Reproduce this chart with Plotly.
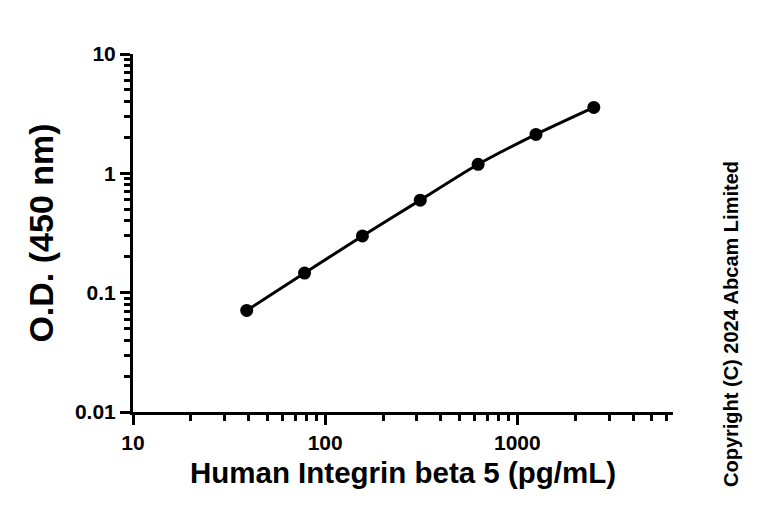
import plotly.graph_objects as go

concentration = [39.06, 78.13, 156.25, 312.5, 625, 1250, 2500]
od_450 = [0.071, 0.146, 0.299, 0.596, 1.19, 2.12, 3.57]

x_major = [10, 100, 1000]
x_major_text = ["10", "100", "1000"]
x_minor = [20, 30, 40, 50, 60, 70, 80, 90, 200, 300, 400, 500, 600, 700, 800, 900,
           2000, 3000, 4000, 5000, 6000]
y_major = [0.01, 0.1, 1, 10]
y_major_text = ["0.01", "0.1", "1", "10"]
y_minor = [0.02, 0.03, 0.04, 0.05, 0.06, 0.07, 0.08, 0.09,
           0.2, 0.3, 0.4, 0.5, 0.6, 0.7, 0.8, 0.9,
           2, 3, 4, 5, 6, 7, 8, 9]

x_title = "Human Integrin beta 5 (pg/mL)"
y_title = "O.D. (450 nm)"
copyright_text = "Copyright (C) 2024 Abcam Limited"

FONT = "Liberation Sans, Arial, sans-serif"

fig = go.Figure()
fig.add_trace(go.Scatter(
    x=concentration, y=od_450, mode="lines+markers",
    line=dict(color="black", width=3, shape="spline", smoothing=0.6),
    marker=dict(color="black", size=13),
    showlegend=False,
))

axis_common = dict(
    showline=True, linecolor="black", linewidth=3,
    ticks="outside", ticklen=10, tickwidth=3, tickcolor="black",
    showgrid=False, zeroline=False, mirror=False,
    tickfont=dict(family=FONT, size=21, color="black", weight="bold"),
)

fig.update_xaxes(
    type="log", range=[1, 3.81],
    tickmode="array", tickvals=x_major, ticktext=x_major_text,
    minor=dict(tickmode="array", tickvals=x_minor, ticks="outside", ticklen=6,
               tickwidth=3, tickcolor="black", showgrid=False),
    title=dict(text=f"<b>{x_title}</b>", font=dict(family=FONT, size=29.5, color="black"),
               standoff=10),
    **axis_common,
)
fig.update_yaxes(
    type="log", range=[-2, 1],
    tickmode="array", tickvals=y_major, ticktext=y_major_text,
    minor=dict(tickmode="array", tickvals=y_minor, ticks="outside", ticklen=6,
               tickwidth=3, tickcolor="black", showgrid=False),
    title=dict(text=f"<b>{y_title}</b>", font=dict(family=FONT, size=34, color="black"),
               standoff=12),
    **axis_common,
)

fig.add_annotation(
    text=f"<b>{copyright_text}</b>", xref="paper", yref="paper",
    x=1, xshift=58, y=0.5, yshift=-91, textangle=-90, showarrow=False,
    xanchor="center", yanchor="middle",
    font=dict(family=FONT, size=20, color="black"),
)

fig.update_layout(
    width=768, height=520,
    margin=dict(l=125, r=103, t=46, b=116),
    plot_bgcolor="white", paper_bgcolor="white",
)

fig.write_html("out.html")
